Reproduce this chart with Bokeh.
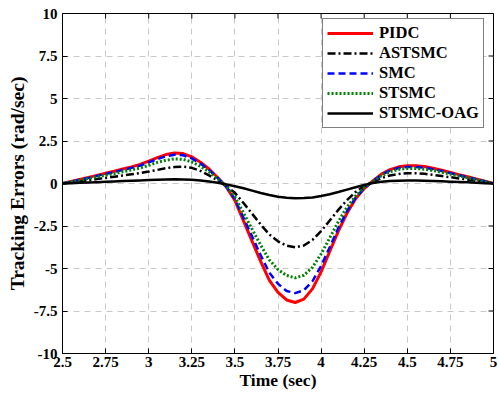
import math
from bokeh.plotting import figure
from bokeh.models import FixedTicker, Range1d, Legend, LegendItem, ColumnDataSource
from bokeh.embed import file_html
from bokeh.resources import INLINE

t = [2.50, 2.55, 2.60, 2.65, 2.70, 2.75, 2.80, 2.85, 2.90, 2.95,
     3.00, 3.05, 3.10, 3.15, 3.20, 3.25, 3.30, 3.35, 3.40, 3.45,
     3.50, 3.55, 3.60, 3.65, 3.70, 3.75, 3.80, 3.85, 3.90, 3.95,
     4.00, 4.05, 4.10, 4.15, 4.20, 4.25, 4.30, 4.35, 4.40, 4.45,
     4.50, 4.55, 4.60, 4.65, 4.70, 4.75, 4.80, 4.85, 4.90, 4.95, 5.00]

pidc = [0.00, 0.12, 0.24, 0.36, 0.48, 0.60, 0.72, 0.85, 0.98, 1.12,
        1.32, 1.52, 1.70, 1.79, 1.76, 1.57, 1.25, 0.85, 0.35, -0.20,
        -1.00, -2.20, -3.40, -4.60, -5.70, -6.40, -6.85, -7.00, -6.80, -6.20,
        -5.20, -4.00, -2.80, -1.75, -0.90, -0.30, 0.15, 0.55, 0.82, 0.98,
        1.05, 1.05, 1.00, 0.90, 0.78, 0.65, 0.52, 0.40, 0.27, 0.14, 0.00]

astsmc = [0.00, 0.06, 0.12, 0.19, 0.26, 0.33, 0.40, 0.47, 0.54, 0.61,
          0.70, 0.80, 0.90, 0.97, 0.99, 0.92, 0.74, 0.48, 0.18, -0.15,
          -0.55, -1.15, -1.78, -2.42, -3.00, -3.40, -3.66, -3.75, -3.65, -3.32,
          -2.80, -2.18, -1.55, -0.98, -0.50, -0.15, 0.10, 0.32, 0.47, 0.56,
          0.60, 0.60, 0.57, 0.51, 0.44, 0.37, 0.30, 0.23, 0.15, 0.08, 0.00]

smc = [0.00, 0.11, 0.22, 0.33, 0.45, 0.56, 0.67, 0.80, 0.92, 1.05,
       1.24, 1.43, 1.60, 1.69, 1.66, 1.48, 1.18, 0.80, 0.33, -0.18,
       -0.92, -2.02, -3.12, -4.23, -5.25, -5.90, -6.32, -6.45, -6.28, -5.75,
       -4.85, -3.75, -2.62, -1.63, -0.84, -0.28, 0.14, 0.51, 0.76, 0.91,
       0.97, 0.97, 0.93, 0.84, 0.73, 0.61, 0.49, 0.37, 0.25, 0.13, 0.00]

stsmc = [0.00, 0.10, 0.19, 0.29, 0.39, 0.49, 0.58, 0.69, 0.80, 0.91,
         1.07, 1.24, 1.37, 1.45, 1.42, 1.27, 1.01, 0.69, 0.28, -0.16,
         -0.79, -1.74, -2.69, -3.63, -4.50, -5.06, -5.41, -5.55, -5.40, -4.93,
         -4.15, -3.20, -2.24, -1.40, -0.73, -0.24, 0.12, 0.46, 0.69, 0.83,
         0.88, 0.88, 0.84, 0.76, 0.66, 0.55, 0.44, 0.34, 0.23, 0.12, 0.00]

oag = [0.00, 0.02, 0.04, 0.06, 0.08, 0.10, 0.12, 0.14, 0.16, 0.18,
       0.20, 0.22, 0.24, 0.25, 0.24, 0.22, 0.18, 0.12, 0.04, -0.05,
       -0.16, -0.28, -0.42, -0.56, -0.68, -0.78, -0.84, -0.87, -0.86, -0.82,
       -0.74, -0.63, -0.50, -0.36, -0.22, -0.08, 0.03, 0.10, 0.14, 0.16,
       0.17, 0.17, 0.16, 0.15, 0.13, 0.11, 0.09, 0.07, 0.05, 0.02, 0.00]

x_ticks = [2.5, 2.75, 3.0, 3.25, 3.5, 3.75, 4.0, 4.25, 4.5, 4.75, 5.0]
x_tick_labels = ["2.5", "2.75", "3", "3.25", "3.5", "3.75", "4", "4.25", "4.5", "4.75", "5"]
y_ticks = [-10, -7.5, -5, -2.5, 0, 2.5, 5, 7.5, 10]
y_tick_labels = ["-10", "-7.5", "-5", "-2.5", "0", "2.5", "5", "7.5", "10"]

series_names = ["PIDC", "ASTSMC", "SMC", "STSMC", "STSMC-OAG"]

FONT = "Liberation Serif"
X0, X1, Y0, Y1 = 2.5, 5.0, -10, 10

p = figure(width=500, height=395, output_backend="svg", toolbar_location=None,
           x_range=Range1d(X0, X1), y_range=Range1d(Y0, Y1),
           min_border_left=62, min_border_right=7, min_border_top=13, min_border_bottom=42)
p.outline_line_color = "black"
p.outline_line_width = 1
p.background_fill_color = "white"
p.border_fill_color = "white"

for ax, ticks, labels in ((p.xaxis[0], x_ticks, x_tick_labels), (p.yaxis[0], y_ticks, y_tick_labels)):
    ax.ticker = FixedTicker(ticks=ticks)
    ax.major_label_overrides = {float(v): s for v, s in zip(ticks, labels)}
    ax.major_label_text_font = FONT
    ax.major_label_text_font_style = "bold"
    ax.major_label_text_font_size = "15px"
    ax.major_label_text_color = "black"
    ax.major_tick_in = 5
    ax.major_tick_out = 0
    ax.minor_tick_line_color = None
    ax.axis_line_color = "black"
    ax.axis_label_text_font = FONT
    ax.axis_label_text_font_style = "bold"
    ax.axis_label_text_color = "black"

p.xaxis[0].axis_label = "Time (sec)"
p.xaxis[0].axis_label_text_font_size = "17.5px"
p.xaxis[0].major_label_standoff = 3
p.xaxis[0].axis_label_standoff = 0
p.yaxis[0].axis_label = "Tracking Errors (rad/sec)"
p.yaxis[0].axis_label_text_font_size = "19.5px"
p.yaxis[0].major_label_standoff = 5
p.yaxis[0].axis_label_standoff = 3

for g in (p.xgrid[0], p.ygrid[0]):
    g.grid_line_color = "#c8c8c8"
    g.grid_line_dash = "6 5"
    g.grid_line_width = 1
p.xgrid[0].ticker = FixedTicker(ticks=x_ticks)
p.ygrid[0].ticker = FixedTicker(ticks=y_ticks)

# inward tick marks on the top and right edges of the box (outer halves are clipped by the frame)
p.scatter(x=x_ticks, y=[Y1] * len(x_ticks), marker="dash", size=10, angle=math.pi / 2,
          line_color="black", line_width=1)
p.scatter(x=[X1] * len(y_ticks), y=y_ticks, marker="dash", size=10, angle=0,
          line_color="black", line_width=1)

src = ColumnDataSource(dict(t=t, pidc=pidc, astsmc=astsmc, smc=smc, stsmc=stsmc, oag=oag))

r1 = p.line("t", "pidc", source=src, line_color="#ff0000", line_width=3)
r2 = p.line("t", "astsmc", source=src, line_color="black", line_width=2.5, line_dash="8 3 2 3")
r3 = p.line("t", "smc", source=src, line_color="#0000ff", line_width=2.5, line_dash="7 4")
r4 = p.line("t", "stsmc", source=src, line_color="#008000", line_width=3, line_dash="2 2")
r5 = p.line("t", "oag", source=src, line_color="black", line_width=2.5)

legend = Legend(items=[LegendItem(label=n, renderers=[r]) for n, r in zip(series_names, [r1, r2, r3, r4, r5])],
                location=(260, 225))
legend.label_text_font = FONT
legend.label_text_font_style = "bold"
legend.label_text_font_size = "16.5px"
legend.label_text_color = "black"
legend.glyph_width = 46
legend.glyph_height = 20
legend.label_height = 20
legend.spacing = 0
legend.padding = 4
legend.margin = 0
legend.label_standoff = 6
legend.border_line_color = "black"
legend.border_line_width = 1
legend.background_fill_alpha = 1
p.add_layout(legend, "center")

open("out.html", "w").write(file_html(p, INLINE))
